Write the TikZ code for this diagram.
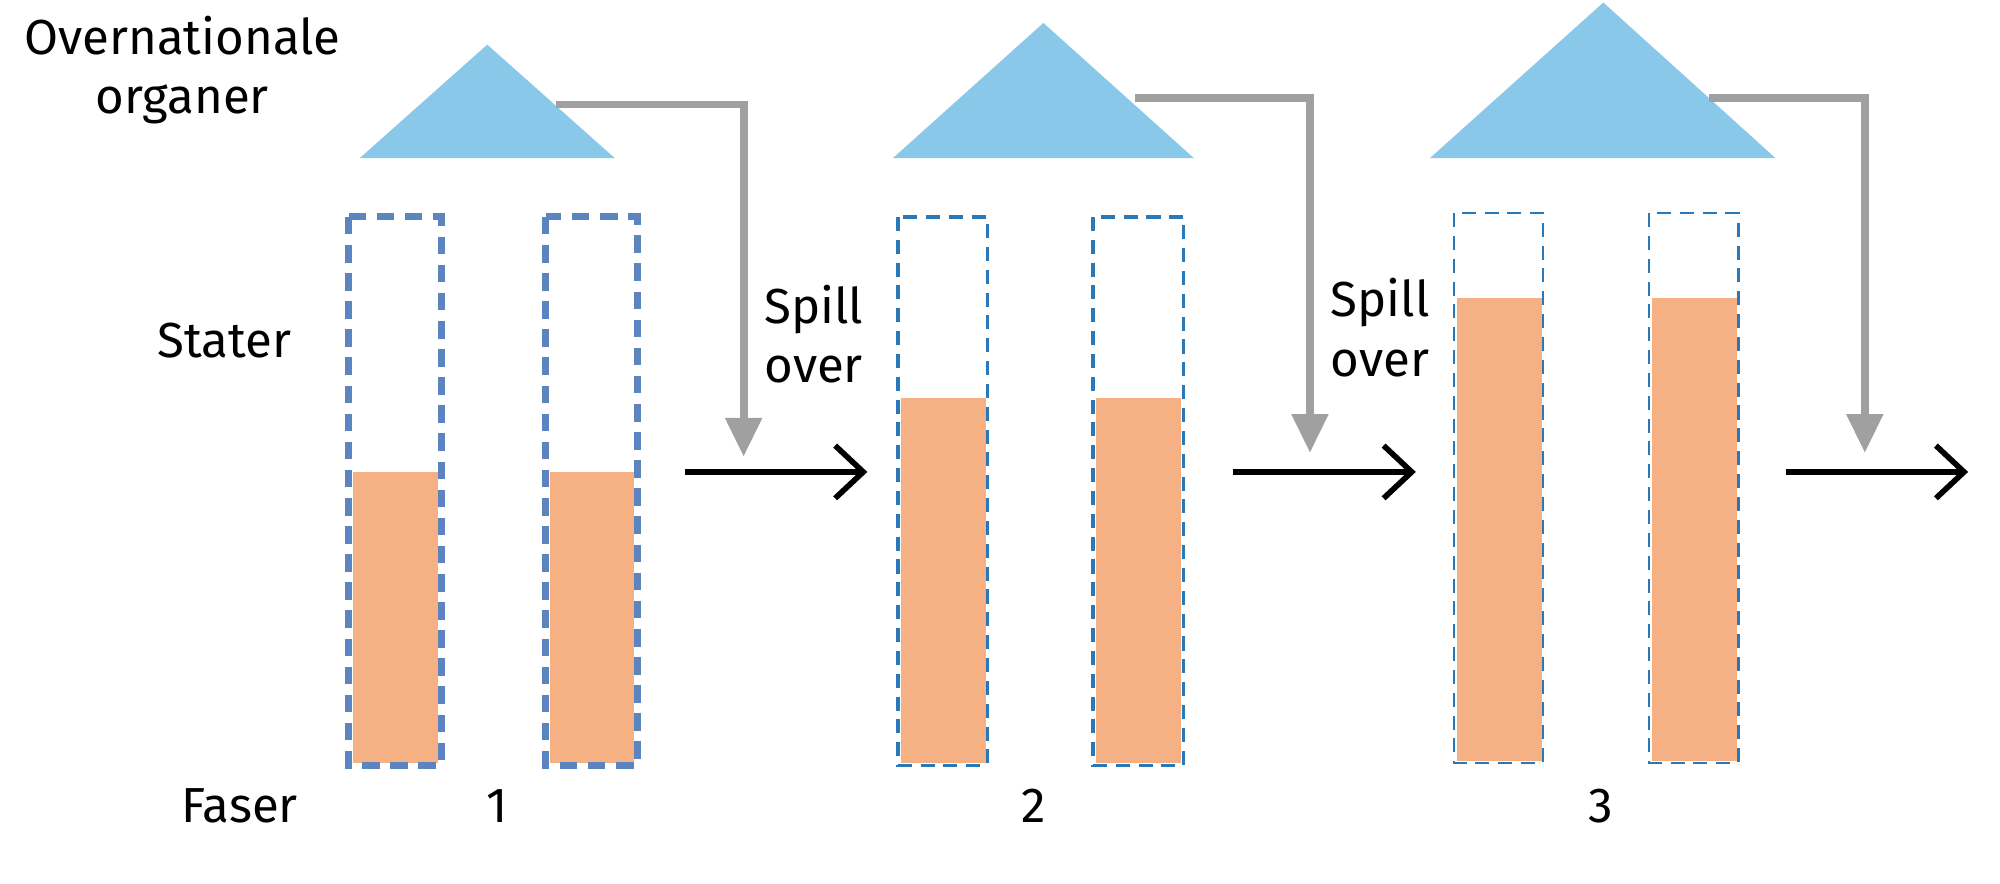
\documentclass[tikz,border=0pt]{standalone}
\usepackage{fontspec}
\setmainfont{Fira Sans}
\usetikzlibrary{arrows.meta}
\definecolor{tri}{HTML}{8AC8EA}
\definecolor{bar}{HTML}{F5B183}
\definecolor{dashA}{HTML}{5B84C0}
\definecolor{dashB}{HTML}{2A78B8}
\definecolor{grayarr}{HTML}{A0A0A0}
\begin{document}
\begin{tikzpicture}[x=0.012755cm,y=-0.012755cm,
  tri/.style={fill=tri,draw=none},
  fillbar/.style={fill=bar,draw=none},
  box1/.style={draw=dashA,line width=2pt,dash pattern=on 5pt off 3pt},
  box2/.style={draw=dashB,line width=1pt,dash pattern=on 4pt off 2.5pt},
  box3/.style={draw=dashB,line width=0.6pt,dash pattern=on 4pt off 2.5pt},
  garr/.style={draw=grayarr,line width=2.2pt,-{Triangle[length=11pt,width=10pt]}},
  barr/.style={draw=black,line width=1.6pt,-{Straight Barb[length=8pt,width=15pt,line width=1.6pt]}},
  lab/.style={font=\fontsize{14pt}{17pt}\selectfont,align=center}]
\useasboundingbox[fill=white] (0,0) rectangle (1568,693);
% triangles
\path[tri] (282,124) -- (382,35) -- (482,124) -- cycle;
\path[tri] (700,124) -- (818,18) -- (936,124) -- cycle;
\path[tri] (1121,124) -- (1257,2) -- (1392,124) -- cycle;
\coordinate (g1s) at (436,82); \coordinate (g1t) at (583,358);
\coordinate (g2s) at (890,77); \coordinate (g2t) at (1027,355);
\coordinate (g3s) at (1340,77); \coordinate (g3t) at (1462,355);
\draw[garr] (g1s) -| (g1t);
\draw[garr] (g2s) -| (g2t);
\draw[garr] (g3s) -| (g3t);
% bars
\path[fillbar] (277,370) rectangle (343,598);
\path[fillbar] (431,370) rectangle (497,598);
\draw[box1] (273,170) rectangle (346,600);
\draw[box1] (428,170) rectangle (500,600);
\path[fillbar] (706,312) rectangle (773,598);
\path[fillbar] (859,312) rectangle (926,598);
\draw[box2] (704,170) rectangle (774,600);
\draw[box2] (857,170) rectangle (928,600);
\path[fillbar] (1142,234) rectangle (1209,597);
\path[fillbar] (1295,234) rectangle (1362,597);
\draw[box3] (1140,167) rectangle (1210,598);
\draw[box3] (1293,167) rectangle (1363,598);
% black arrows
\coordinate (a1s) at (537,370); \coordinate (a1t) at (680,370);
\coordinate (a2s) at (967,370); \coordinate (a2t) at (1110,370);
\coordinate (a3s) at (1400,370); \coordinate (a3t) at (1543,370);
\draw[barr] (a1s) -- (a1t);
\draw[barr] (a2s) -- (a2t);
\draw[barr] (a3s) -- (a3t);
% labels
\node[lab] (ov) at (143,55) {Overnationale\\organer};
\node[lab] (st) at (176,267) {Stater};
\node[lab] (fa) at (188,632) {Faser};
\node[lab] (n1) at (390,632) {1};
\node[lab] (n2) at (810,632) {2};
\node[lab] (n3) at (1255,632) {3};
\node[lab] (s1) at (638,262) {Spill\\over};
\node[lab] (s2) at (1082,257) {Spill\\over};
\end{tikzpicture}
\end{document}
